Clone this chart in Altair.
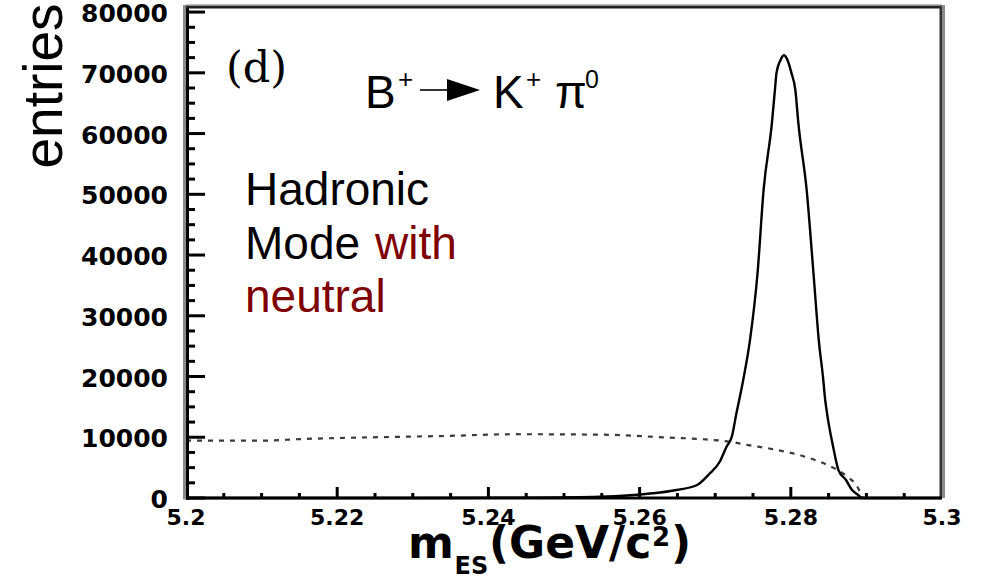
import altair as alt
import pandas as pd

# ---- data ----
sig_x = [5.200, 5.230, 5.245, 5.2548, 5.2591, 5.2618, 5.2649, 5.2676, 5.2693, 5.2706,
         5.2715, 5.2722, 5.2728, 5.2737, 5.2746, 5.2756, 5.2764, 5.2775, 5.2779, 5.2781,
         5.2786, 5.2791, 5.2796, 5.2801, 5.2806, 5.2810, 5.2821, 5.2830, 5.2837, 5.2843,
         5.2845, 5.2848, 5.2856, 5.2863, 5.2873, 5.2881, 5.2889, 5.2894, 5.300]
sig_y = [0, 0, 60, 210, 500, 780, 1320, 2140, 4070, 5970,
         8440, 10100, 13900, 19400, 26000, 37000, 50700, 61700, 67200, 69900,
         72000, 72900, 72000, 69900, 67200, 61700, 50700, 37000, 26000, 19400,
         16700, 13900, 8440, 4600, 2960, 1320, 500, 0, 0]

bkg_x = [5.2000, 5.2102, 5.2151, 5.2230, 5.2345, 5.2433, 5.2548, 5.2636, 5.2680,
         5.2720, 5.2742, 5.2776, 5.2812, 5.2839, 5.2856, 5.2875, 5.2888, 5.2895]
bkg_y = [9450, 9450, 9700, 9950, 10220, 10500, 10430, 9970, 9700,
         9250, 8750, 8050, 7050, 5930, 5000, 3500, 1850, 0]

x_major = [5.2, 5.22, 5.24, 5.26, 5.28, 5.3]
x_labels = ["5.2", "5.22", "5.24", "5.26", "5.28", "5.3"]
x_minor = [5.205, 5.21, 5.215, 5.225, 5.23, 5.235, 5.245, 5.25, 5.255,
           5.265, 5.27, 5.275, 5.285, 5.29, 5.295]
y_major = [0, 10000, 20000, 30000, 40000, 50000, 60000, 70000, 80000]
y_labels = ["0", "10000", "20000", "30000", "40000", "50000", "60000", "70000", "80000"]
y_minor = [2500, 5000, 7500, 12500, 15000, 17500, 22500, 25000, 27500,
           32500, 35000, 37500, 42500, 45000, 47500, 52500, 55000, 57500,
           62500, 65000, 67500, 72500, 75000, 77500]

sig = pd.DataFrame({"m": sig_x, "n": sig_y})
bkg = pd.DataFrame({"m": bkg_x, "n": bkg_y})
one = pd.DataFrame({"a": [0]})

W, H = 756, 492
xs = alt.Scale(domain=[5.2, 5.3], nice=False, zero=False)
ys = alt.Scale(domain=[0, 81000], nice=False, zero=False)

TICKFONT = "DejaVu Sans"

bkg_line = alt.Chart(bkg).mark_line(
    color="#3a3a3a", strokeWidth=2.2, strokeDash=[5, 6], interpolate="monotone"
).encode(
    x=alt.X("m:Q", scale=xs, axis=None),
    y=alt.Y("n:Q", scale=ys, axis=None),
)

sig_line = alt.Chart(sig).mark_line(
    color="black", strokeWidth=2.4, interpolate="monotone"
).encode(
    x=alt.X("m:Q", scale=xs, axis=None),
    y=alt.Y("n:Q", scale=ys, axis=None),
)

x_lab = alt.Chart(pd.DataFrame({"v": x_major, "t": x_labels})).mark_text(
    font=TICKFONT, fontWeight="bold", fontSize=22, color="black",
    align="center", baseline="top"
).encode(
    x=alt.X("v:Q", scale=xs, axis=None), y=alt.value(H + 10), text="t:N"
)

y_lab = alt.Chart(pd.DataFrame({"v": y_major, "t": y_labels})).mark_text(
    font=TICKFONT, fontWeight="bold", fontSize=25, color="black",
    align="right", baseline="middle", dy=2
).encode(
    y=alt.Y("v:Q", scale=ys, axis=None), x=alt.value(-18), text="t:N"
)


def xticks(vals, length):
    return alt.Chart(pd.DataFrame({"v": vals})).mark_rule(
        color="black", strokeWidth=3
    ).encode(
        x=alt.X("v:Q", scale=xs, axis=None),
        y=alt.value(H), y2=alt.value(H - length),
    )


def yticks(vals, length):
    return alt.Chart(pd.DataFrame({"v": vals})).mark_rule(
        color="black", strokeWidth=3
    ).encode(
        y=alt.Y("v:Q", scale=ys, axis=None),
        x=alt.value(0), x2=alt.value(length),
    )


def rule(x1, x2, y1, y2, color, w):
    return alt.Chart(one).mark_rule(color=color, strokeWidth=w).encode(
        x=alt.value(x1), x2=alt.value(x2), y=alt.value(y1), y2=alt.value(y2)
    )


def txt(s, x, y, size, font="Liberation Sans", color="black", weight="normal",
        angle=0, align="left"):
    return alt.Chart(one).mark_text(
        text=s, font=font, fontSize=size, color=color, fontWeight=weight,
        angle=angle, align=align, baseline="alphabetic"
    ).encode(x=alt.value(x), y=alt.value(y))


frame = [
    rule(-1.5, -1.5, -1, H + 1.5, "#8a8a8a", 3),   # left gray
    rule(1.5, 1.5, 0, H + 1.5, "black", 3),        # left black
    rule(0, W, 1, 1, "#222222", 3),                # top
    rule(0, W, -1.5, -1.5, "#bbbbbb", 1),          # top light
    rule(W - 1, W - 1, 0, H, "#333333", 3),        # right dark
    rule(W + 1.5, W + 1.5, -1, H, "#8a8a8a", 3),   # right gray
    rule(0, W, H, H, "black", 3),                  # bottom
]

arrow_head = alt.Chart(one).mark_point(
    shape="M-1,-0.67L1,0L-1,0.67Z", size=1089, filled=True, color="black", opacity=1
).encode(x=alt.value(277.5), y=alt.value(84))

texts = [
    txt("(d)", 40, 76, 43, font="DejaVu Serif"),
    txt("B", 179, 102, 46),
    txt("+", 212, 82, 26),
    rule(234, 264, 84, 84, "black", 1.6),
    arrow_head,
    txt("K", 307, 102, 46),
    txt("+", 340, 82, 26),
    txt("π", 369, 102, 46),
    txt("0", 399, 82, 25),
    txt("Hadronic", 59, 199, 46),
    txt("Mode", 59, 253, 46),
    txt("with", 189, 253, 46, color="#800000"),
    txt("neutral", 59, 306, 46, color="#800000"),
    # axis titles
    txt("entries", -124, 80, 55, angle=270, align="center"),
    txt("m", 222, 552, 44, font=TICKFONT, weight="bold"),
    txt("ES", 268.5, 568, 24, font=TICKFONT, weight="bold"),
    txt("(GeV/c", 303, 552, 44, font=TICKFONT, weight="bold"),
    txt("2", 466, 540, 26, font=TICKFONT, weight="bold"),
    txt(")", 485, 552, 44, font=TICKFONT, weight="bold"),
]

chart = alt.layer(
    bkg_line, sig_line,
    xticks(x_major, 11), xticks(x_minor, 5),
    yticks(y_major, 19), yticks(y_minor, 9),
    x_lab, y_lab,
    *frame, *texts,
).properties(
    width=W, height=H,
    autosize=alt.AutoSizeParams(type="none"),
    padding={"left": 186, "top": 6, "right": 44, "bottom": 84},
    background="white",
).configure_view(stroke=None)

chart.save("out.html", embed_options={"renderer": "svg", "actions": False})
